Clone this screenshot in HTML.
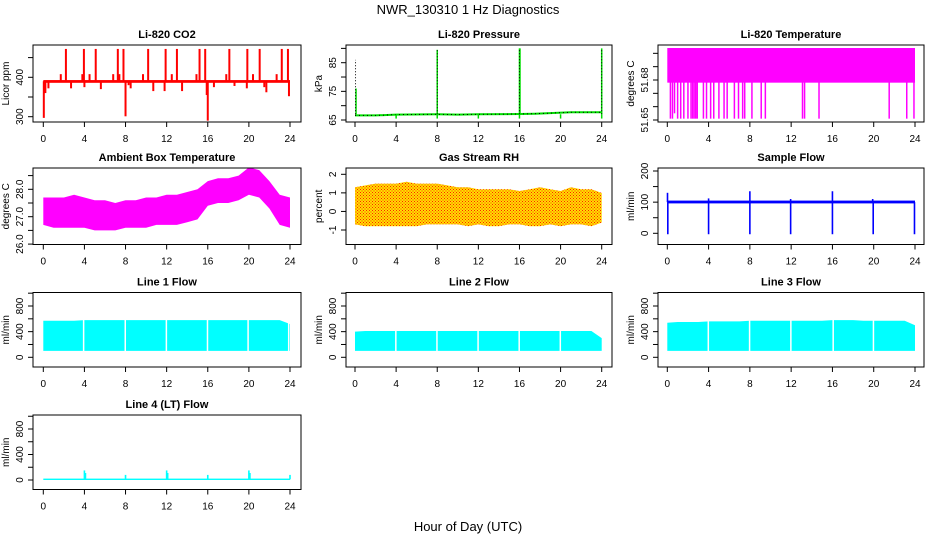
<!DOCTYPE html>
<html><head><meta charset="utf-8"><style>
html,body{margin:0;padding:0;background:#fff;}
svg{display:block;font-family:"Liberation Sans",Arial,sans-serif;}
</style></head><body>
<svg id="chart" width="936" height="540" viewBox="0 0 936 540" xmlns="http://www.w3.org/2000/svg">
<defs>
<pattern id="rhpat" width="3" height="3" patternUnits="userSpaceOnUse">
<rect width="3" height="3" fill="#ffe000"/>
<rect x="0" y="0" width="1" height="1" fill="#ff2000"/>
<rect x="1.5" y="1.5" width="1" height="1" fill="#ff2000"/>
</pattern>
</defs>
<text x="468" y="14" font-size="13" text-anchor="middle">NWR_130310  1 Hz Diagnostics</text>
<text x="468" y="531" font-size="13" text-anchor="middle">Hour of Day (UTC)</text>
</svg>
<script>
// ---- data ----
const xTicks = [0,4,8,12,16,20,24];
const hours = [0,1,2,3,4,5,6,7,8,9,10,11,12,13,14,15,16,17,18,19,20,21,22,23,24];

const co2Band = [386,393];
const co2SpikeT = [2.2,3.95,5.1,7.25,7.8,10.2,11.9,13.0,15.2,15.75,18.1,19.85,21.05,23.2,23.8,1.7,3.8,4.5,6.8,7.4,9.7,12.5,14.9,17.8,20.4,22.7,0.05,0.2,0.5,2.7,4.0,5.6,8.0,8.3,8.5,10.7,11.8,13.5,15.9,16.0,16.6,18.6,19.8,21.5,21.7,23.9];
const co2SpikeV = [472,472,472,472,472,472,472,472,472,472,472,472,472,472,472,408,408,408,408,408,408,408,408,408,408,408,297,360,372,372,375,370,301,380,372,365,365,365,355,290,375,378,372,375,362,352];

const pressBaseT = [0,2,4,8,10,12,16,17.5,21,24];
const pressBaseV = [66.6,66.6,66.9,67,66.9,67,67.1,67.2,67.7,67.7];
const pressSpikeT = [0.1,8.0,16.0,16.05,24.0];
const pressSpikeV = [76,89.5,90,90,90];
const pressDotT = [0.05,8.0,16.0,24.0];
const pressDotV = [86,89.5,90,90];
const pressDipT = [4,8,12,16,20,24];
const pressDipV = [65.5,65.5,65.5,65.5,65.5,65.5];

const tempBand = [51.678,51.704];
const tempSpikeT = [0.3,0.5,0.7,1.0,1.3,1.6,2.0,2.3,2.45,2.6,2.75,2.9,3.5,3.8,4.2,4.5,5.0,5.5,5.8,6.5,6.9,7.3,7.5,8.2,9.1,9.5,13.1,13.3,14.7,21.5,23.2,23.9];
const tempSpikeV = [51.651,51.651,51.655,51.651,51.651,51.651,51.651,51.651,51.651,51.651,51.651,51.651,51.651,51.651,51.651,51.651,51.651,51.651,51.651,51.651,51.651,51.651,51.651,51.651,51.651,51.651,51.651,51.651,51.651,51.651,51.651,51.651];

const ambHi = [27.7,27.7,27.7,27.8,27.7,27.6,27.6,27.5,27.6,27.6,27.7,27.7,27.8,27.8,27.9,28.0,28.3,28.4,28.4,28.5,28.8,28.7,28.3,27.8,27.7];
const ambLo = [26.7,26.6,26.6,26.6,26.6,26.5,26.5,26.5,26.6,26.6,26.6,26.7,26.7,26.7,26.8,26.9,27.4,27.5,27.5,27.6,27.8,27.7,27.3,26.7,26.6];

const rhHi = [1.3,1.4,1.5,1.5,1.5,1.6,1.5,1.5,1.5,1.4,1.3,1.3,1.2,1.2,1.2,1.2,1.1,1.2,1.3,1.2,1.1,1.3,1.2,1.2,1.0];
const rhLo = [-0.7,-0.8,-0.8,-0.8,-0.8,-0.8,-0.8,-0.7,-0.7,-0.7,-0.7,-0.8,-0.7,-0.8,-0.8,-0.7,-0.7,-0.8,-0.8,-0.7,-0.8,-0.7,-0.7,-0.8,-0.6];

const sampleBand = [96,105];
const sampleSpikeT = [0.05,4.0,8.0,11.95,16.0,19.95,23.95,0.02,4.0,8.0,11.95,16.0,19.9];
const sampleSpikeV = [-3,-3,-3,-3,-3,-3,-3,130,112,135,110,135,110];

const flow1Hi = [570,570,570,570,580,580,580,580,580,580,580,580,580,580,580,580,580,580,580,580,580,580,580,580,520];
const flow1Lo = [100,100,100,100,100,100,100,100,100,100,100,100,100,100,100,100,100,100,100,100,100,100,100,100,100];
const flow1Gaps = [3.85,7.9,11.9,15.9,19.85,23.8];
const flow2Hi = [400,410,410,410,410,410,410,410,410,410,410,410,410,410,410,410,410,410,410,410,410,410,410,410,300];
const flow2Lo = [100,100,100,100,100,100,100,100,100,100,100,100,100,100,100,100,100,100,100,100,100,100,100,100,100];
const flow2Gaps = [3.9,7.9,11.9,15.9,19.9];
const flow3Hi = [540,550,550,550,560,560,560,560,570,570,570,570,570,570,570,570,580,580,580,570,570,570,570,570,500];
const flow3Lo = [100,100,100,100,100,100,100,100,100,100,100,100,100,100,100,100,100,100,100,100,100,100,100,100,100];
const flow3Gaps = [3.9,7.9,11.9,16.0,19.9];
const flow4Band = [0,22];
const flow4SpikeT = [4.0,4.1,8.0,12.0,12.1,16.0,20.0,20.1,24.0];
const flow4SpikeV = [150,110,80,150,110,80,150,110,80];

// ---- layout ----
const NS = "http://www.w3.org/2000/svg";
const svg = document.getElementById('chart');
const cols = [{l:33,r:301,x0:43.3,x24:290},{l:346,r:612,x0:355,x24:601.7},{l:658,r:924,x0:667.3,x24:915}];
const rows = [{t:45,b:122},{t:168,b:244.5},{t:292.5,b:367},{t:415,b:489.5}];

function mk(tag, attrs, parent){
  const e = document.createElementNS(NS, tag);
  for (const k in attrs) e.setAttribute(k, attrs[k]);
  (parent||svg).appendChild(e);
  return e;
}

function panel(name, title, ylab, ci, ri, ref, yt, yl, fmt){
  const c = cols[ci], r = rows[ri];
  const g = mk('g', {});
  
  
  const xs = h => c.x0 + h*(c.x24-c.x0)/24;
  const ys = v => ref[1] + (v-ref[0])*(ref[3]-ref[1])/(ref[2]-ref[0]);
  const plot = mk('g', {}, g);
  
  
  const clip = 'clip-' + name;
  const cp = mk('clipPath', {id: clip}, g);
  mk('rect', {x:c.l, y:r.t, width:c.r-c.l, height:r.b-r.t}, cp);
  plot.setAttribute('clip-path', 'url(#' + clip + ')');
  const box = mk('rect', {x:c.l, y:r.t, width:c.r-c.l, height:r.b-r.t, fill:'none', stroke:'#000', 'stroke-width':1}, g);
  
  
  const tt = mk('text', {x:(c.l+c.r)/2, y:r.t-7, 'font-size':11, 'font-weight':'bold', 'text-anchor':'middle'}, g);
  tt.textContent = title;
  
  
  const yy = (r.t+r.b)/2;
  const ylt = mk('text', {x:c.l-24, y:yy, 'font-size':10, 'text-anchor':'middle', transform:'rotate(-90 '+(c.l-24)+' '+yy+')'}, g);
  ylt.textContent = ylab;
  
  
  mk('line', {x1:xs(0), x2:xs(24), y1:r.b, y2:r.b, stroke:'#000'}, g);
  xTicks.forEach(h => {
    mk('line', {x1:xs(h), x2:xs(h), y1:r.b, y2:r.b+5, stroke:'#000'}, g);
    const t = mk('text', {x:xs(h), y:r.b+20, 'font-size':10, 'text-anchor':'middle'}, g);
    t.textContent = h;
    
    
  });
  yt.forEach(v => {
    mk('line', {x1:c.l, x2:c.l-5, y1:ys(v), y2:ys(v), stroke:'#000'}, g);
  });
  yl.forEach(v => {
    const y = ys(v);
    const t = mk('text', {x:c.l-10, y:y, 'font-size':10, 'text-anchor':'middle', transform:'rotate(-90 '+(c.l-10)+' '+y+')'}, g);
    t.textContent = fmt ? fmt(v) : v;
    
    
  });
  return {plot, xs, ys};
}

function band(p, lo, hi, t0, t1, color, nm){
  const e = mk('rect', {x:p.xs(t0), y:p.ys(hi), width:p.xs(t1)-p.xs(t0), height:p.ys(lo)-p.ys(hi), fill:color}, p.plot);
  
  
}
function spikes(p, ts, vs, base, color, w, nm, dash){
  ts.forEach((t,i) => {
    const a = {x1:p.xs(t), x2:p.xs(t), y1:p.ys(base), y2:p.ys(vs[i]), stroke:color, 'stroke-width':w};
    if (dash) a['stroke-dasharray'] = dash;
    const e = mk('line', a, p.plot);
    
    
  });
}
function envelope(p, hi, lo, fill, nm){
  let d = '';
  hours.forEach((h,i) => { d += (i ? 'L' : 'M') + p.xs(h).toFixed(1) + ' ' + p.ys(hi[i]).toFixed(1); });
  for (let i = hours.length-1; i >= 0; i--) d += 'L' + p.xs(hours[i]).toFixed(1) + ' ' + p.ys(lo[i]).toFixed(1);
  const e = mk('path', {d: d + 'Z', fill: fill}, p.plot);
  
  
}
function gaps(p, gs, lo, hi, nm){
  gs.forEach(g => {
    const e = mk('rect', {x:p.xs(g), y:p.ys(hi), width:Math.max(1.5, p.xs(g+0.12)-p.xs(g)), height:p.ys(lo)-p.ys(hi), fill:'#fff'}, p.plot);
    
    
  });
}

// CO2
let p = panel('co2', 'Li-820 CO2', 'Licor ppm', 0, 0, [300,116.7,400,77.3], [300,350,400,450], [300,400]);
band(p, co2Band[0], co2Band[1], 0, 24, '#ff0000', 'co2-series');
spikes(p, co2SpikeT, co2SpikeV, 390, '#ff0000', 2, 'co2-spike');

// Pressure
p = panel('pressure', 'Li-820 Pressure', 'kPa', 1, 0, [65,120,85,62.7], [65,70,75,80,85,90], [65,75,85]);
{
  let d = '';
  pressBaseT.forEach((t,i) => { d += (i ? 'L' : 'M') + p.xs(t).toFixed(1) + ' ' + p.ys(pressBaseV[i]).toFixed(1); });
  const e = mk('path', {d: d, fill:'none', stroke:'#00dd00', 'stroke-width':2}, p.plot);
  
  
  const e2 = mk('path', {d: d, fill:'none', stroke:'#000', 'stroke-width':1, 'stroke-dasharray':'1 3'}, p.plot);
  
  
}
spikes(p, pressSpikeT, pressSpikeV, 67, '#00dd00', 1.5, 'pressure-spike');
spikes(p, pressDotT, pressDotV, 67, '#000', 1, 'pressure-dotted-spike', '1 2');
spikes(p, pressDipT, pressDipV, 67, '#00dd00', 1.5, 'pressure-dip');

// Li-820 Temperature
p = panel('li820-temp', 'Li-820 Temperature', 'degrees C', 2, 0, [51.65,120,51.68,80], [51.65,51.66,51.67,51.68,51.69,51.70], [51.65,51.68]);
band(p, tempBand[0], tempBand[1], 0, 24, '#ff00ff', 'li820-temp-series');
spikes(p, tempSpikeT, tempSpikeV, 51.679, '#ff00ff', 1.5, 'li820-temp-spike');

// Ambient box temperature
p = panel('ambient-temp', 'Ambient Box Temperature', 'degrees C', 0, 1, [28,189.3,27,216.7], [26,26.5,27,27.5,28,28.5], [26,27,28], v => v.toFixed(1));
envelope(p, ambHi, ambLo, '#ff00ff', 'ambient-temp-series');

// Gas stream RH
p = panel('rh', 'Gas Stream RH', 'percent', 1, 1, [2,174.3,-1,230], [-1,0,1,2], [-1,0,1,2]);
envelope(p, rhHi, rhLo, 'url(#rhpat)', 'rh-series');

// Sample flow
p = panel('sample-flow', 'Sample Flow', 'ml/min', 2, 1, [0,233.3,200,171], [0,50,100,150,200], [0,100,200]);
band(p, sampleBand[0], sampleBand[1], 0, 24, '#0000ff', 'sample-flow-series');
spikes(p, sampleSpikeT, sampleSpikeV, 100, '#0000ff', 1.6, 'sample-flow-spike');

// Line flows
const fTicks = [0,200,400,600,800,1000], fLabels = [0,400,800];
p = panel('line1-flow', 'Line 1 Flow', 'ml/min', 0, 2, [0,357.3,800,306], fTicks, fLabels);
envelope(p, flow1Hi, flow1Lo, '#00ffff', 'line1-flow-series');
gaps(p, flow1Gaps, 80, 600, 'line1-flow-gap');
p = panel('line2-flow', 'Line 2 Flow', 'ml/min', 1, 2, [0,357.3,800,306], fTicks, fLabels);
envelope(p, flow2Hi, flow2Lo, '#00ffff', 'line2-flow-series');
gaps(p, flow2Gaps, 80, 450, 'line2-flow-gap');
p = panel('line3-flow', 'Line 3 Flow', 'ml/min', 2, 2, [0,357.3,800,306], fTicks, fLabels);
envelope(p, flow3Hi, flow3Lo, '#00ffff', 'line3-flow-series');
gaps(p, flow3Gaps, 80, 600, 'line3-flow-gap');
p = panel('line4-flow', 'Line 4 (LT) Flow', 'ml/min', 0, 3, [0,480,800,429], fTicks, fLabels);
band(p, flow4Band[0], flow4Band[1], 0, 24, '#00ffff', 'line4-flow-series');
spikes(p, flow4SpikeT, flow4SpikeV, 10, '#00ffff', 1.6, 'line4-flow-spike');
</script>
</body></html>
